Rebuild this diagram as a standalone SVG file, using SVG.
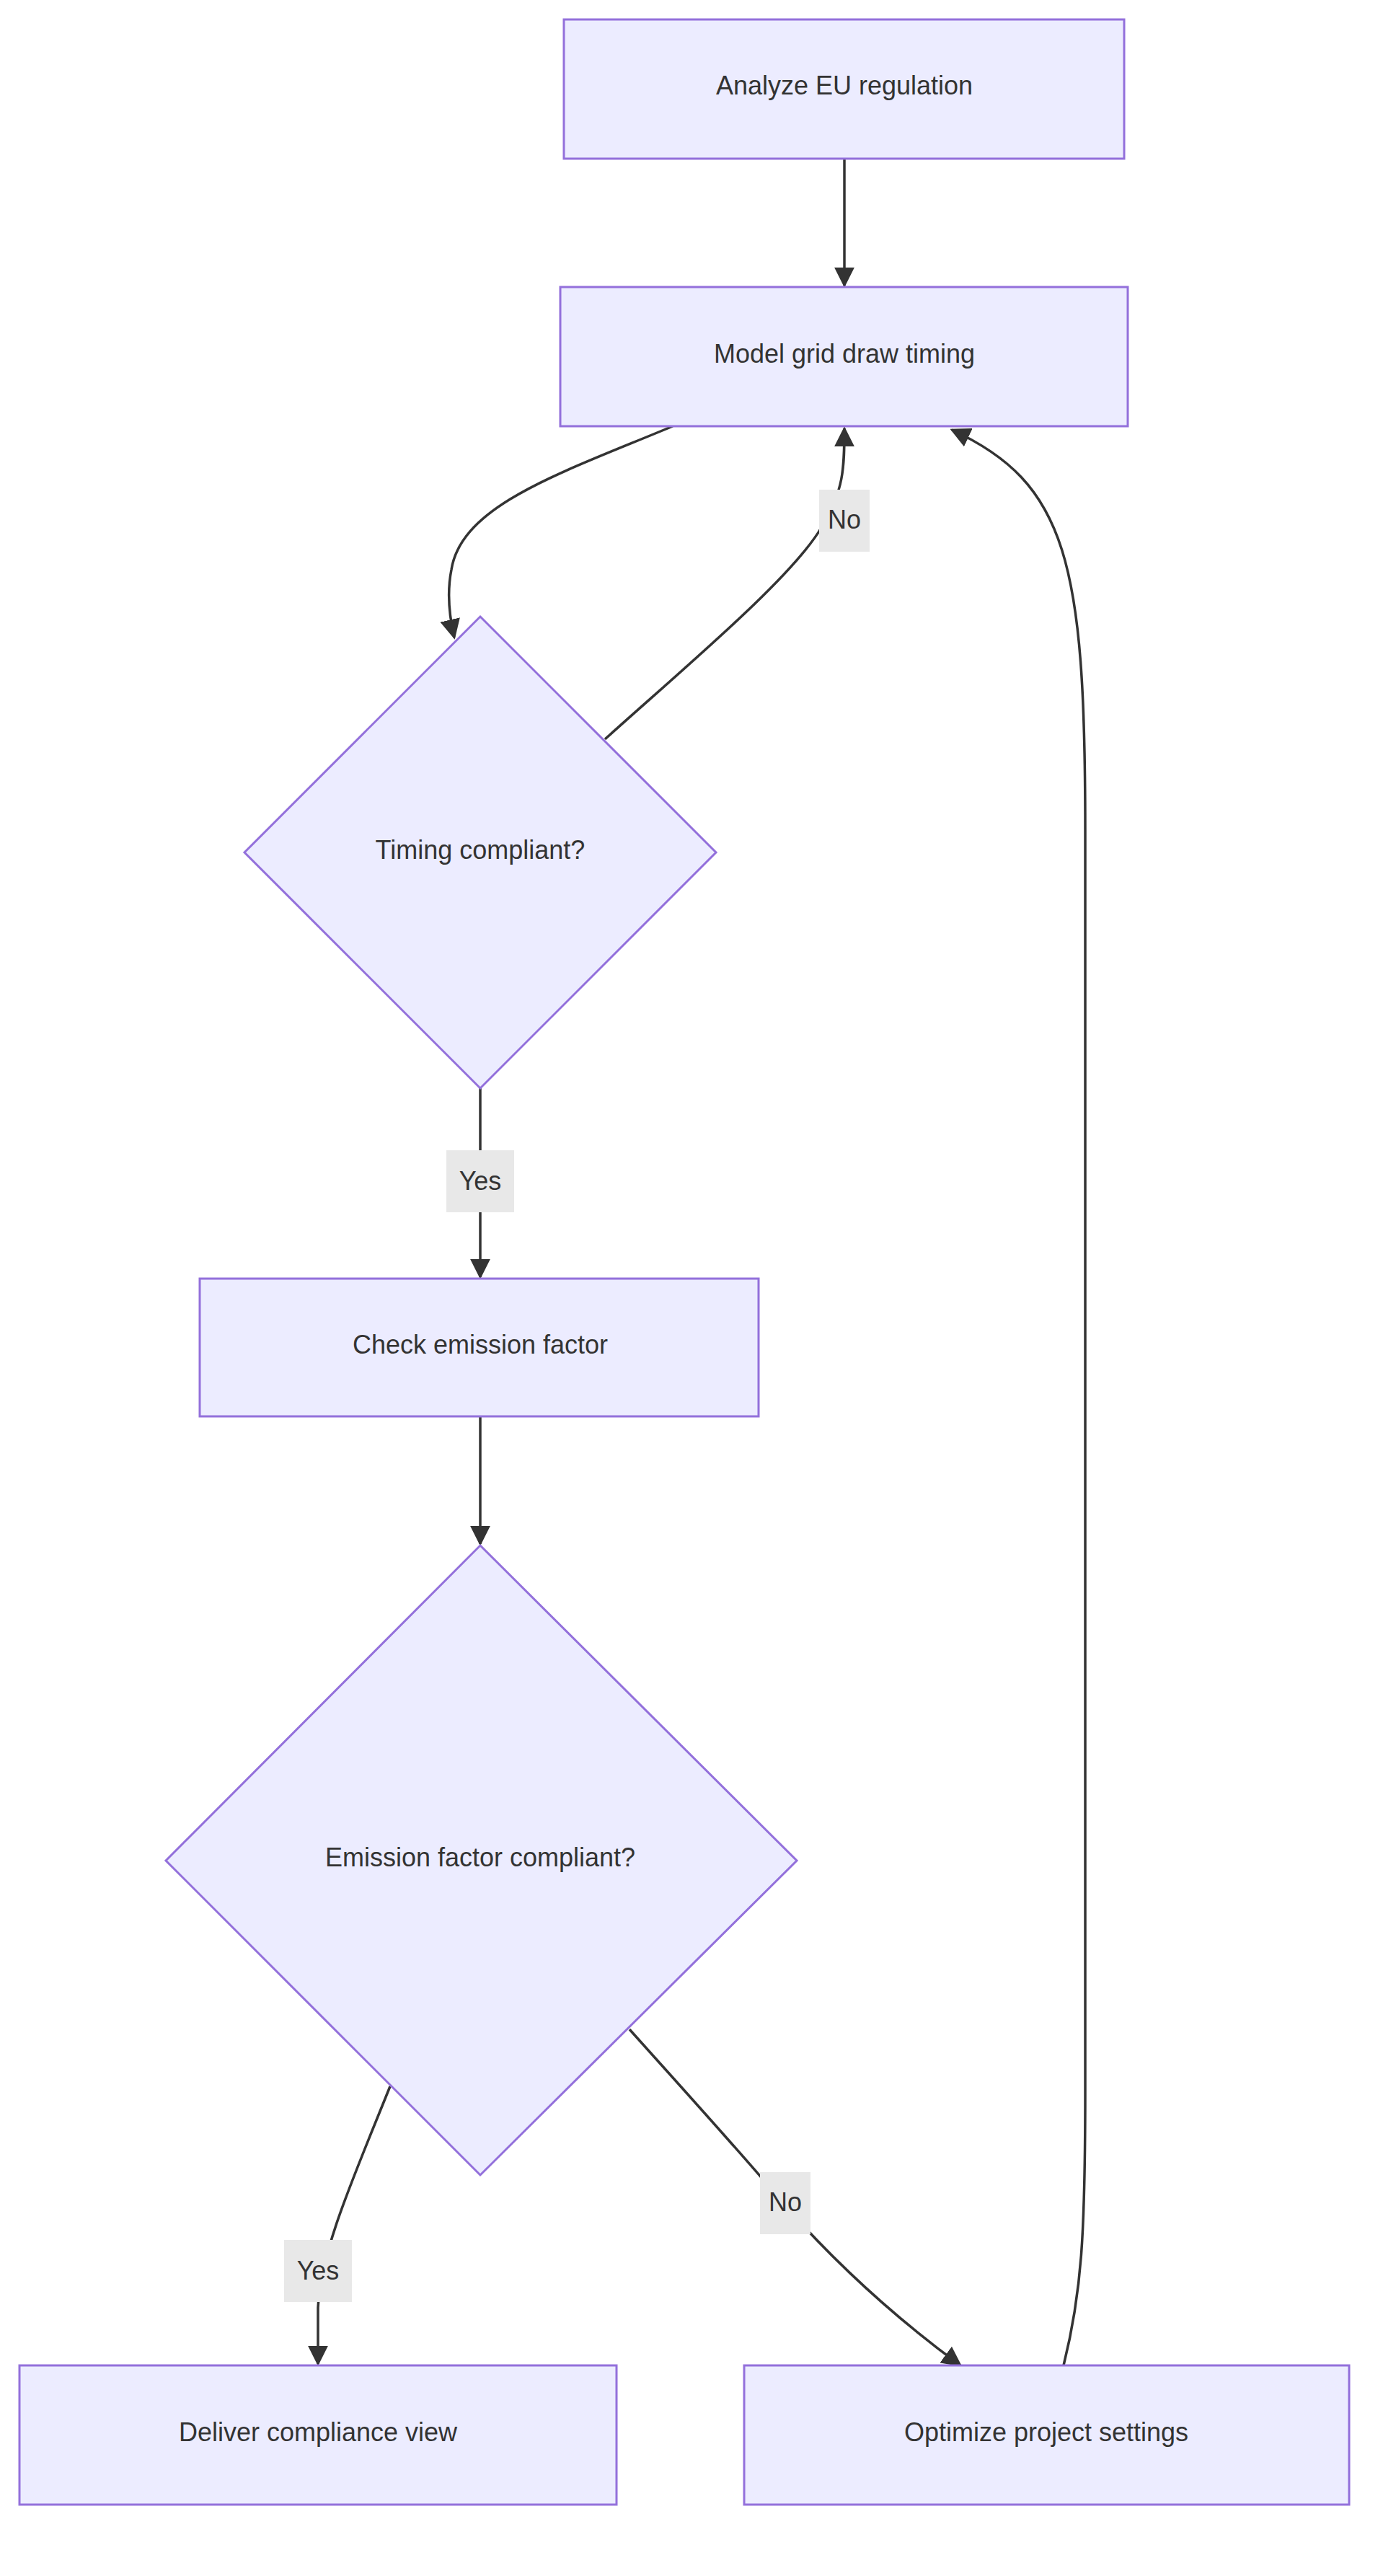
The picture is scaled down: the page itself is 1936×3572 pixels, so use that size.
<svg xmlns="http://www.w3.org/2000/svg" width="1936" height="3572" viewBox="0 0 1936 3572">
<style>
.n{fill:#ECECFF;stroke:#9370DB;stroke-width:3}
.t{font-family:"Liberation Sans",Arial,sans-serif;font-size:36px;fill:#333;text-anchor:middle;dominant-baseline:central}
.e{fill:none;stroke:#333;stroke-width:3.5}
.lb{fill:#e8e8e8}
</style>
<defs><marker id="a" markerUnits="userSpaceOnUse" markerWidth="28" markerHeight="28" viewBox="0 0 10 10" refX="9" refY="5" orient="auto"><path d="M0,0L10,5L0,10z" fill="#333"/></marker></defs>
<rect width="1936" height="3572" fill="#fff"/>
<g id="connectors">
<path class="e" d="M1171,220 L1171,396" marker-end="url(#a)"/>
<path class="e" d="M933,591 C780,655 640,700 626,790 C620,820 622,850 630,884" marker-end="url(#a)"/>
<path class="e" d="M839,1025 C950,925 1100,800 1140,730 C1170,680 1171,650 1171,594" marker-end="url(#a)"/>
<path class="e" d="M666,1509 L666,1771" marker-end="url(#a)"/>
<path class="e" d="M666,1964 L666,2141" marker-end="url(#a)"/>
<path class="e" d="M541,2893 C490,3020 445,3120 441,3200 L441,3278" marker-end="url(#a)"/>
<path class="e" d="M873,2814 C950,2900 1050,3010 1090,3060 C1170,3150 1250,3220 1332,3280" marker-end="url(#a)"/>
<path class="e" d="M1475,3280 C1500,3180 1505,3100 1505,2900 L1505,1150 C1505,780 1480,670 1320,596" marker-end="url(#a)"/>
<rect class="lb" x="1136" y="679" width="70" height="86"/><text class="t" x="1171" y="720">No</text>
<rect class="lb" x="619" y="1595" width="94" height="86"/><text class="t" x="666" y="1637">Yes</text>
<rect class="lb" x="394" y="3106" width="94" height="86"/><text class="t" x="441" y="3148">Yes</text>
<rect class="lb" x="1054" y="3012" width="70" height="86"/><text class="t" x="1089" y="3053">No</text>
</g>
<g id="A"><rect class="n" x="782" y="27" width="777" height="193"/><text class="t" x="1171" y="118">Analyze EU regulation</text></g>
<g id="B"><rect class="n" x="777" y="398" width="787" height="193"/><text class="t" x="1171" y="490">Model grid draw timing</text></g>
<g id="C"><polygon class="n" points="666,855 993,1182 666,1509 339,1182"/><text class="t" x="666" y="1178">Timing compliant?</text></g>
<g id="D"><rect class="n" x="277" y="1773" width="775" height="191"/><text class="t" x="666" y="1864">Check emission factor</text></g>
<g id="E"><polygon class="n" points="666,2143 1105,2580 666,3016 230,2580"/><text class="t" x="666" y="2575">Emission factor compliant?</text></g>
<g id="F"><rect class="n" x="27" y="3280" width="828" height="193"/><text class="t" x="441" y="3372">Deliver compliance view</text></g>
<g id="G"><rect class="n" x="1032" y="3280" width="839" height="193"/><text class="t" x="1451" y="3372">Optimize project settings</text></g>
</svg>
